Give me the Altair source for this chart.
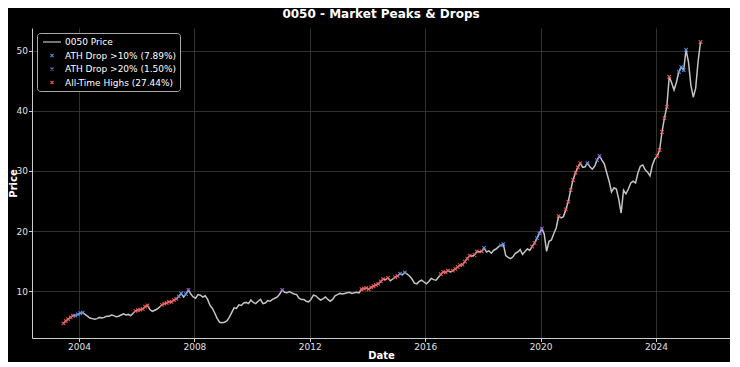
import altair as alt
import pandas as pd

# Monthly closing prices, June 2003 -> July 2025
start_year = 2003
start_month = 6
prices = [
    4.6, 5.0, 5.3, 5.6, 5.9, 5.9, 6.1,                                  # 2003 (Jun-Dec)
    6.3, 6.4, 6.1, 5.8, 5.5, 5.4, 5.3, 5.4, 5.6, 5.5, 5.6, 5.8,         # 2004
    5.8, 6.0, 5.9, 5.7, 5.8, 6.0, 6.2, 6.0, 6.1, 5.9, 6.3, 6.7,         # 2005
    6.8, 6.9, 7.0, 7.4, 7.6, 6.9, 6.6, 6.8, 7.0, 7.3, 7.7, 7.9,         # 2006
    8.0, 8.2, 8.2, 8.5, 8.7, 9.1, 9.6, 9.0, 9.5, 10.2, 9.5, 9.0,        # 2007
    8.8, 9.4, 9.3, 9.0, 9.2, 8.6, 7.6, 7.1, 6.3, 5.4, 4.8, 4.7,         # 2008
    4.8, 5.0, 5.6, 6.4, 7.2, 7.1, 7.7, 7.6, 8.0, 8.1, 7.9, 8.5,         # 2009
    8.1, 7.9, 8.3, 8.6, 7.9, 8.0, 8.4, 8.3, 8.6, 8.8, 9.0, 9.5,         # 2010
    10.2, 9.8, 9.7, 9.9, 9.7, 9.5, 9.4, 8.8, 8.6, 8.6, 8.3, 8.2,        # 2011
    8.6, 9.3, 9.2, 8.8, 8.5, 8.7, 9.0, 8.6, 8.3, 8.6, 9.2, 9.4,         # 2012
    9.6, 9.5, 9.6, 9.7, 9.8, 9.6, 9.7, 9.8, 9.7, 10.3, 10.4, 10.5,      # 2013
    10.3, 10.6, 10.8, 11.0, 11.2, 11.6, 12.0, 11.9, 12.2, 11.7, 12.0, 12.3,  # 2014
    12.5, 12.9, 12.7, 13.1, 12.8, 12.5, 12.0, 11.3, 11.2, 11.6, 11.8, 11.5,  # 2015
    11.2, 11.6, 12.1, 11.9, 11.8, 12.3, 12.8, 13.2, 13.1, 13.4, 13.2, 13.4,  # 2016
    13.7, 14.0, 14.3, 14.4, 14.9, 15.4, 15.9, 15.8, 16.0, 16.6, 16.5, 16.6,  # 2017
    17.2, 16.5, 16.7, 16.3, 16.8, 17.0, 17.4, 17.6, 17.8, 15.9, 15.6, 15.4,  # 2018
    15.7, 16.3, 16.5, 16.9, 16.1, 16.6, 17.0, 16.8, 17.4, 18.0, 18.8, 19.6,  # 2019
    20.4, 19.5, 16.6, 18.3, 18.5, 19.6, 20.5, 22.5, 22.2, 22.4, 23.6, 24.9,  # 2020
    26.8, 28.5, 29.7, 30.6, 31.3, 30.6, 30.7, 31.3, 30.7, 30.3, 30.8, 31.8,  # 2021
    32.5, 31.8, 31.2, 29.7, 28.3, 26.5, 27.2, 27.0, 25.3, 23.0, 26.8, 26.2,  # 2022
    27.0, 28.0, 28.3, 28.0, 29.7, 30.8, 31.0, 30.2, 29.8, 29.2, 31.0, 32.0,  # 2023
    32.5, 33.5, 36.5, 38.8, 40.7, 45.7, 44.7, 43.5, 44.8, 46.5, 47.3, 46.8,  # 2024
    50.2, 48.2, 44.3, 42.3, 43.8, 48.2, 51.5,                                # 2025 (Jan-Jul)
]

ath_months = [
    "2003-06", "2003-07", "2003-08", "2003-09", "2003-10",
    "2005-12", "2006-01", "2006-02", "2006-03", "2006-04", "2006-05",
    "2006-11", "2006-12", "2007-01", "2007-02", "2007-03", "2007-04", "2007-05",
    "2013-10", "2013-11", "2013-12", "2014-01", "2014-02", "2014-03", "2014-04",
    "2014-05", "2014-06", "2014-07", "2014-09", "2014-12", "2015-01",
    "2016-07", "2016-08", "2016-09", "2016-10", "2016-12",
    "2017-01", "2017-02", "2017-03", "2017-04", "2017-05", "2017-06", "2017-07",
    "2017-09", "2017-10", "2017-12",
    "2019-09", "2019-10", "2020-08", "2020-11", "2020-12",
    "2021-01", "2021-02", "2021-03", "2021-04", "2021-05",
    "2024-01", "2024-02", "2024-03", "2024-04", "2024-05", "2024-06", "2025-07",
]
drop10_months = [
    "2003-11", "2003-12", "2004-01", "2004-02", "2007-06", "2007-07", "2007-09",
    "2015-02", "2015-04", "2018-01", "2018-08", "2018-09", "2019-11", "2019-12",
    "2021-08", "2021-12", "2024-10", "2024-11", "2024-12", "2025-01",
]
drop20_months = ["2007-10", "2011-01", "2020-01", "2022-01"]

series_names = ["0050 Price", "ATH Drop >10% (7.89%)", "ATH Drop >20% (1.50%)", "All-Time Highs (27.44%)"]
series_colors = ["#c4c4c4", "#5b8ee0", "#9a5be0", "#f05a5a"]
x_ticks = [2004, 2008, 2012, 2016, 2020, 2024]
y_ticks = [10, 20, 30, 40, 50]

rows = []
for i, p in enumerate(prices):
    m = (start_month - 1) + i
    yr = start_year + m // 12
    mo = m % 12 + 1
    rows.append({"key": f"{yr}-{mo:02d}", "t": yr + (mo - 0.5) / 12, "price": p, "series": series_names[0]})
line_df = pd.DataFrame(rows)
lookup = line_df.set_index("key")

mk = []
for name, months in [(series_names[3], ath_months), (series_names[1], drop10_months), (series_names[2], drop20_months)]:
    for k in months:
        r = lookup.loc[k]
        mk.append({"t": r["t"], "price": r["price"], "series": name})
marker_df = pd.DataFrame(mk)

xpath = "M-0.3,-0.3L0.3,0.3M-0.3,0.3L0.3,-0.3"
shape_range = ["M-1.8,0L1.8,0", xpath, xpath, xpath]

x_enc = alt.X("t:Q", scale=alt.Scale(domain=[2002.371, 2026.565], nice=False, zero=False),
              axis=alt.Axis(values=x_ticks, format="d", title="Date",
                            titleY=20, titleBaseline="alphabetic"))
y_enc = alt.Y("price:Q", scale=alt.Scale(domain=[2.17, 53.83], nice=False, zero=False),
              axis=alt.Axis(values=y_ticks, format="d", title="Price", labelPadding=1,
                            titleX=-16, titleY=155, titleAngle=270, titleBaseline="alphabetic"))
color_enc = alt.Color("series:N", scale=alt.Scale(domain=series_names, range=series_colors),
                      legend=alt.Legend(title=None, orient="top-left"))

line = alt.Chart(line_df).mark_line(strokeWidth=1.5).encode(
    x=x_enc, y=y_enc, color=color_enc, order="t:Q"
)
points = alt.Chart(marker_df).mark_point(filled=False, strokeWidth=1.1, size=140, opacity=0.9).encode(
    x=x_enc, y=y_enc, color=color_enc,
    shape=alt.Shape("series:N", scale=alt.Scale(domain=series_names, range=shape_range),
                    legend=alt.Legend(title=None, orient="top-left")),
)

chart = alt.layer(line, points).properties(
    width=698, height=310,
    padding={"left": 24, "top": 20, "right": 0, "bottom": 24},
    autosize=alt.AutoSizeParams(type="none"),
    background="#000000",
    title=alt.TitleParams("0050 - Market Peaks & Drops", fontSize=12, fontWeight="bold",
                          color="white", font="DejaVu Sans", anchor="middle", offset=7),
).configure_view(stroke=None).configure_axis(
    labelFont="DejaVu Sans", labelFontSize=9, labelColor="#e0e0e0",
    titleFont="DejaVu Sans", titleFontSize=10, titleFontWeight="bold", titleColor="white",
    domainColor="#cccccc", tickColor="#cccccc", tickSize=3.5,
    gridColor="#3c3c3c", gridWidth=0.8, labelPadding=1,
).configure_legend(
    fillColor="#000000", strokeColor="#aaaaaa", cornerRadius=3, padding=3, offset=5,
    labelFont="DejaVu Sans", labelFontSize=9, labelColor="white",
    symbolSize=100, symbolStrokeWidth=1.3, rowPadding=2.5, labelOffset=7, symbolOffset=6,
)

chart.save("out.html", embed_options={"renderer": "svg", "actions": False})
